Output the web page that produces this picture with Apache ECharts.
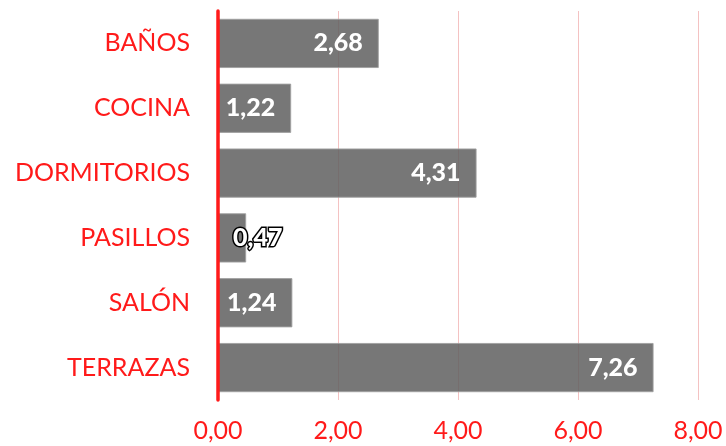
<!DOCTYPE html>
<html>
<head>
<meta charset="utf-8">
<script src="https://cdn.jsdelivr.net/npm/echarts@6/dist/echarts.min.js"></script>
<style>
  html, body { margin: 0; padding: 0; background: #ffffff; }
  #chart { width: 726px; height: 446px; }
</style>
</head>
<body>
<div id="chart"></div>
<script>
// Rooms (top to bottom) and their values
const categories = ['BAÑOS', 'COCINA', 'DORMITORIOS', 'PASILLOS', 'SALÓN', 'TERRAZAS'];
const values = [2.68, 1.22, 4.31, 0.47, 1.24, 7.26];
const axisMin = 0;
const axisMax = 8;
const axisStep = 2;

const RED = '#ff1a1a';
const FONT = 'Lato, "Liberation Sans", sans-serif';

function fmt(v) {
  return v.toFixed(2).replace('.', ',');
}

const chart = echarts.init(document.getElementById('chart'), null, { renderer: 'canvas' });

const barData = values.map(function (v) {
  const item = { value: v };
  if (v < 1) {
    // narrow bar: label spills out, outlined for legibility
    item.label = {
      position: 'insideLeft',
      distance: 15,
      color: '#ffffff',
      textBorderColor: '#000000',
      textBorderWidth: 3
    };
  }
  return item;
});

chart.setOption({
  animation: false,
  backgroundColor: '#ffffff',
  grid: { left: 218, right: 28, top: 11, bottom: 46, containLabel: false },
  xAxis: {
    type: 'value',
    min: axisMin,
    max: axisMax,
    interval: axisStep,
    axisLine: { show: false },
    axisTick: { show: false },
    splitLine: { show: true, lineStyle: { color: 'rgba(230,120,120,0.45)', width: 1 } },
    axisLabel: {
      color: RED,
      fontFamily: FONT,
      fontSize: 25,
      margin: 18,
      formatter: function (v) { return fmt(v); }
    }
  },
  yAxis: {
    type: 'category',
    data: categories,
    inverse: true,
    z: 5,
    axisLine: { show: true, lineStyle: { color: RED, width: 3.5 } },
    axisTick: { show: false },
    axisLabel: {
      color: RED,
      fontFamily: FONT,
      fontSize: 25,
      margin: 28
    }
  },
  series: [{
    type: 'bar',
    data: barData,
    barCategoryGap: '24%',
    itemStyle: {
      color: 'rgba(95,95,95,0.85)',
      borderColor: 'rgba(160,160,160,0.9)',
      borderWidth: 1
    },
    label: {
      show: true,
      position: 'insideRight',
      distance: 16,
      color: '#ffffff',
      fontFamily: FONT,
      fontWeight: 900,
      fontSize: 25,
      formatter: function (p) { return fmt(p.value); }
    },
    z: 1
  }]
});
</script>
</body>
</html>
